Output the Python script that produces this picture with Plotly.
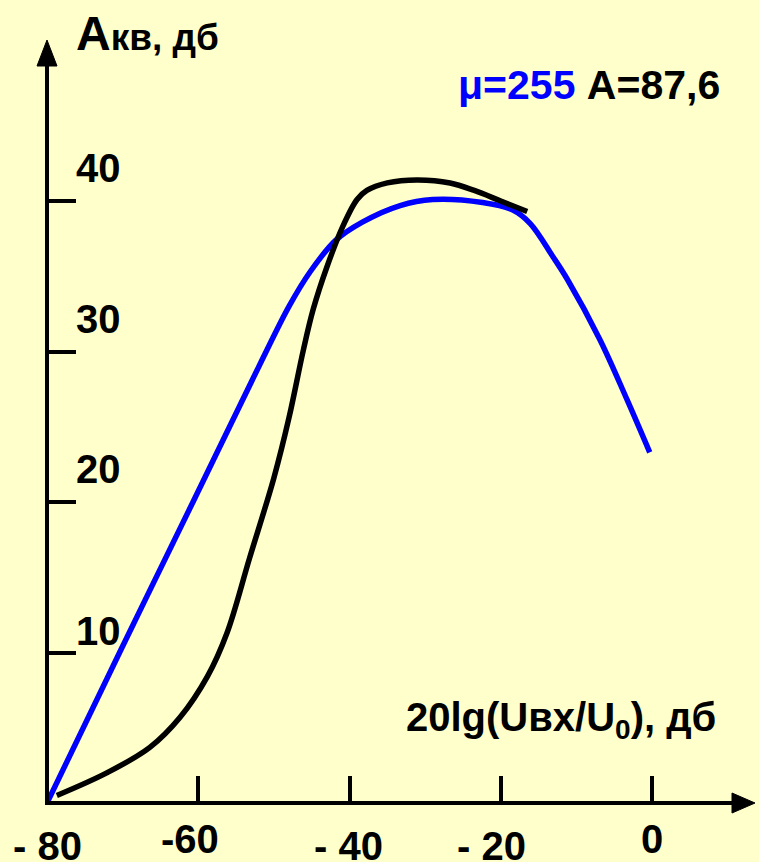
import plotly.graph_objects as go

# ---- data ----
blue_x = [-80, -70.4, -60.6, -51.6, -48.0, -45.2, -41.8, -38.3, -33.3, -29.0, -22.4, -18.4, -16.1, -13.1, -11.2, -6.9, -3.3, -0.3]
blue_y = [0, 10.0, 20.1, 29.4, 33.0, 35.3, 37.4, 38.6, 39.7, 40.1, 39.9, 39.4, 38.5, 36.3, 34.8, 30.8, 26.8, 23.3]

black_x = [-78.7, -72.1, -66.4, -62.4, -58.8, -56.2, -53.2, -50.0, -48.0, -46.1, -44.8, -43.0, -40.9, -39.0, -37.7, -35.0, -31.1, -26.7, -23.5, -20.0, -16.5]
black_y = [0.5, 2.0, 3.7, 5.7, 8.4, 11.3, 16.3, 21.6, 25.6, 30.1, 32.8, 35.6, 38.3, 40.1, 40.7, 41.2, 41.4, 41.2, 40.7, 40.0, 39.3]

x_tick_vals = [-80, -60, -40, -20, 0]
x_tick_text = ["- 80", "-60", "- 40", "- 20", "0"]
y_tick_vals = [10, 20, 30, 40]
y_tick_text = ["10", "20", "30", "40"]

title_text = "А<span style='font-size:37px'>кв, дб</span>"
legend_text = "<span style='color:#0000FF'>μ=255</span> A=87,6"
xlabel_text = "20lg(Uвх/U<sub>0</sub>), дб"

# ---- layout geometry ----
W, H = 759, 862
ML, MR, MT, MB = 47, 0, 0, 59
PW, PH = W - ML - MR, H - MT - MB
PX_PER_X = 605 / 80.0
PX_PER_Y = 602 / 40.0
XMIN = -80
XMAX = XMIN + PW / PX_PER_X
YMIN = 0
YMAX = PH / PX_PER_Y

FONT = "Liberation Sans, Arial, sans-serif"
BG = "#FFFFCC"


def px2x(px):
    return XMIN + (px - ML) / PX_PER_X


def py2y(py):
    return (H - MB - py) / PX_PER_Y


def ppx(px):  # pixel -> paper x
    return (px - ML) / PW


def ppy(py):  # pixel -> paper y
    return (H - MB - py) / PH


fig = go.Figure()
fig.add_trace(go.Scatter(x=blue_x, y=blue_y, mode="lines",
                         line=dict(color="#0000FF", width=5.5, shape="spline", smoothing=1.0),
                         cliponaxis=False, showlegend=False, hoverinfo="skip"))
fig.add_trace(go.Scatter(x=black_x, y=black_y, mode="lines",
                         line=dict(color="#000000", width=5.5, shape="spline", smoothing=1.0),
                         cliponaxis=False, showlegend=False, hoverinfo="skip"))

shapes = []
# axis lines
shapes.append(dict(type="line", xref="paper", yref="paper", x0=ppx(45), y0=0, x1=ppx(738), y1=0,
                   line=dict(color="black", width=4)))
shapes.append(dict(type="line", xref="paper", yref="paper", x0=0, y0=ppy(805), x1=0, y1=ppy(60),
                   line=dict(color="black", width=4)))
# arrow heads
shapes.append(dict(type="path", xref="paper", yref="paper",
                   path=f"M {ppx(755)} {ppy(803)} L {ppx(732)} {ppy(793)} L {ppx(732)} {ppy(813)} Z",
                   fillcolor="black", line=dict(color="black", width=1)))
shapes.append(dict(type="path", xref="paper", yref="paper",
                   path=f"M {ppx(47)} {ppy(40)} L {ppx(37)} {ppy(66)} L {ppx(57)} {ppy(66)} Z",
                   fillcolor="black", line=dict(color="black", width=1)))

annotations = []
# x tick labels (staggered as in the original)
x_shift = [0, -8, -1, -9, 0]
y_shift = [-43, -36, -43, -43, -36]
for v, t, dx, dy in zip(x_tick_vals, x_tick_text, x_shift, y_shift):
    annotations.append(dict(x=v, y=0, xref="x", yref="y", text=f"<b>{t}</b>", showarrow=False,
                            xanchor="center", yanchor="middle", xshift=dx, yshift=dy,
                            font=dict(family=FONT, size=40, color="black")))
# y tick labels
for v, t in zip(y_tick_vals, y_tick_text):
    annotations.append(dict(x=XMIN, y=v, xref="x", yref="y", text=f"<b>{t}</b>", showarrow=False,
                            xanchor="center", yanchor="middle", xshift=51,
                            yshift=(22 if v == 10 else 33),
                            font=dict(family=FONT, size=40, color="black")))
# titles
annotations.append(dict(x=px2x(74), y=py2y(33), xref="x", yref="y", text=f"<b>{title_text}</b>",
                        showarrow=False, xanchor="left", yanchor="middle",
                        font=dict(family=FONT, size=48, color="black")))
annotations.append(dict(x=px2x(589), y=py2y(85), xref="x", yref="y", text=f"<b>{legend_text}</b>",
                        showarrow=False, xanchor="center", yanchor="middle",
                        font=dict(family=FONT, size=41, color="black")))
annotations.append(dict(x=px2x(561), y=py2y(720), xref="x", yref="y", text=f"<b>{xlabel_text}</b>",
                        showarrow=False, xanchor="center", yanchor="middle",
                        font=dict(family=FONT, size=40, color="black")))

fig.update_layout(
    width=W, height=H,
    margin=dict(l=ML, r=MR, t=MT, b=MB, pad=0),
    paper_bgcolor=BG, plot_bgcolor=BG,
    shapes=shapes, annotations=annotations,
    xaxis=dict(range=[XMIN, XMAX], showgrid=False, zeroline=False, showline=False,
               ticks="inside", ticklen=27, tickwidth=4, tickcolor="black",
               tickvals=x_tick_vals[1:], showticklabels=False, fixedrange=True),
    yaxis=dict(range=[YMIN, YMAX], showgrid=False, zeroline=False, showline=False,
               ticks="inside", ticklen=29, tickwidth=4, tickcolor="black",
               tickvals=y_tick_vals, showticklabels=False, fixedrange=True),
)

fig.write_html("out.html", config={"displayModeBar": False},
               post_script="document.body.style.margin='0';document.body.style.padding='0';"
                           "document.body.style.background='#FFFFCC';document.body.style.overflow='hidden';")
